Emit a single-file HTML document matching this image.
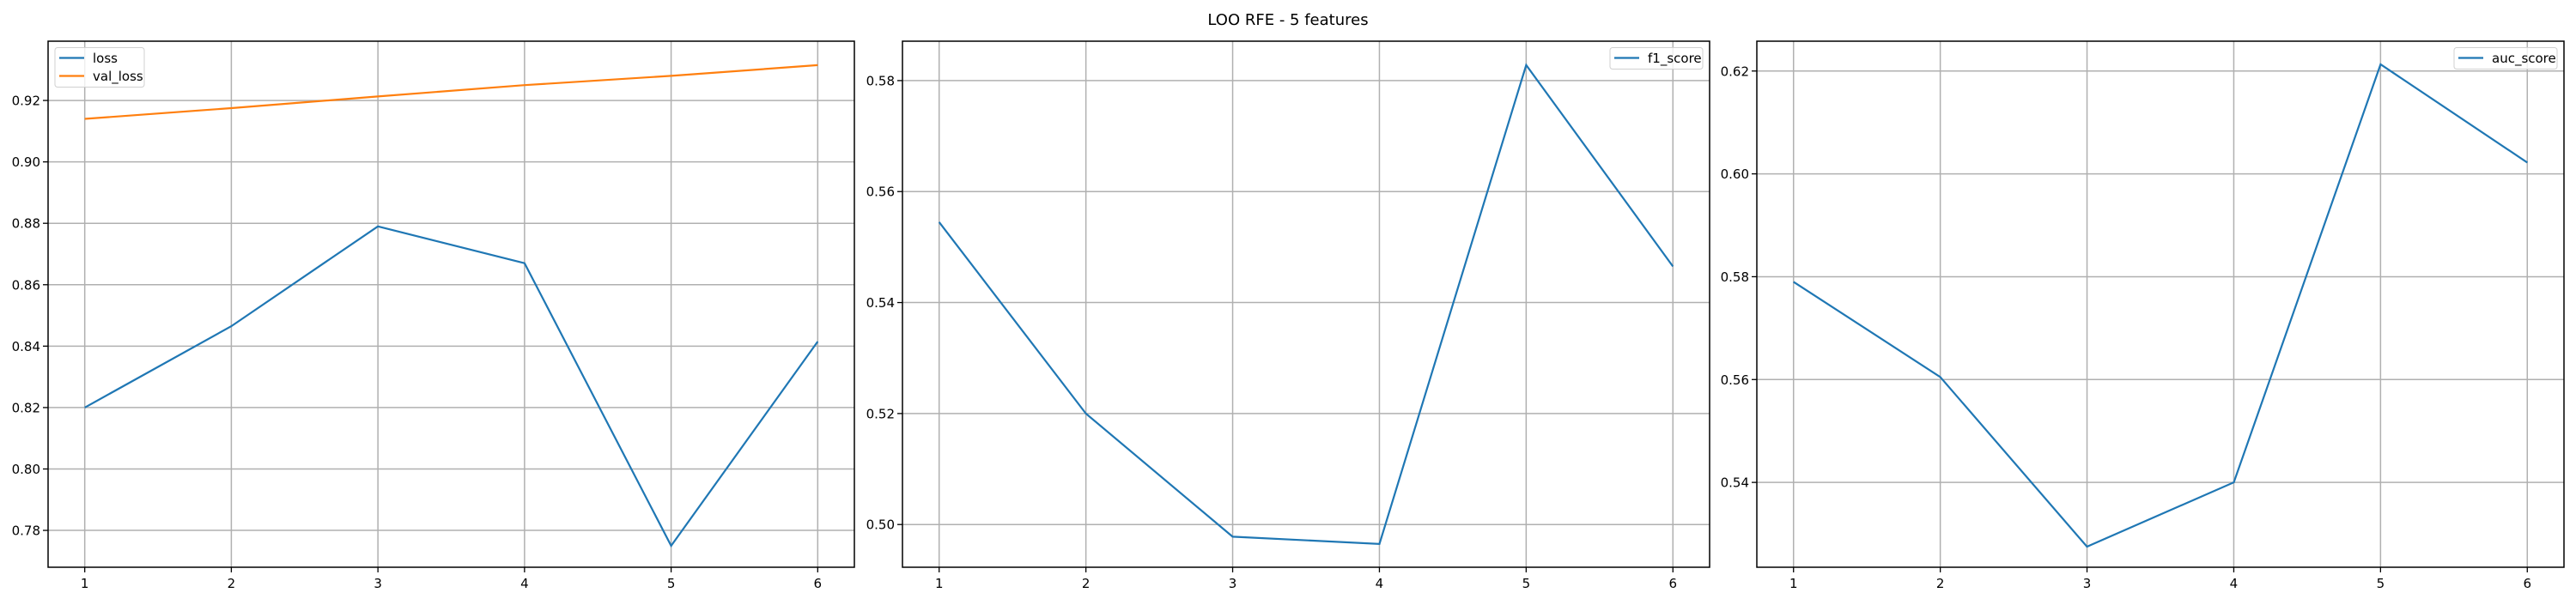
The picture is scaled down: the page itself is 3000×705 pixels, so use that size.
<!DOCTYPE html>
<html><head><meta charset="utf-8"><style>
html,body{margin:0;padding:0;background:#fff;}
svg text{font-family:"DejaVu Sans","Liberation Sans",sans-serif;fill:#000;}
</style></head><body>
<svg id="chart" width="3000" height="700" xmlns="http://www.w3.org/2000/svg">
<rect width="3000" height="700" fill="#fff"/>
<text x="1500" y="29" font-size="18" text-anchor="middle">LOO RFE - 5 features</text>
</svg>
<script>
const epochs = [1, 2, 3, 4, 5, 6];
const lossValues = [0.820, 0.8465, 0.879, 0.867, 0.775, 0.8415];
const valLossValues = [0.914, 0.9175, 0.9213, 0.925, 0.928, 0.9315];
const f1Values = [0.5545, 0.520, 0.4978, 0.4965, 0.5828, 0.5465];
const aucValues = [0.579, 0.5605, 0.5275, 0.540, 0.6213, 0.6022];
const lossTicks = [0.78, 0.80, 0.82, 0.84, 0.86, 0.88, 0.90, 0.92];
const f1Ticks = [0.50, 0.52, 0.54, 0.56, 0.58];
const aucTicks = [0.54, 0.56, 0.58, 0.60, 0.62];

const NS = "http://www.w3.org/2000/svg";
const svg = document.getElementById('chart');
function mk(tag, attrs, parent) {
  const e = document.createElementNS(NS, tag);
  for (const k in attrs) e.setAttribute(k, attrs[k]);
  (parent || svg).appendChild(e);
  return e;
}
function panel(cfg) {
  const g = mk('g', {});
  
  
  const top = 48, bot = 661;
  const xS = v => cfg.left + (v - 0.75) / 5.5 * (cfg.right - cfg.left);
  const yS = v => bot - (v - cfg.ymin) / (cfg.ymax - cfg.ymin) * (bot - top);
  epochs.forEach(ep => {
    const x = xS(ep);
    const gl = mk('line', {x1: x, x2: x, y1: top, y2: bot, stroke: '#b0b0b0', 'stroke-width': 1.5}, g);
    
    
    mk('line', {x1: x, x2: x, y1: bot, y2: bot + 6, stroke: '#000', 'stroke-width': 1.3}, g);
    const t = mk('text', {x: x, y: bot + 24, 'font-size': 15, 'text-anchor': 'middle'}, g);
    t.textContent = ep;
    
    
  });
  cfg.ticks.forEach(tv => {
    const y = yS(tv);
    const gl = mk('line', {x1: cfg.left, x2: cfg.right, y1: y, y2: y, stroke: '#b0b0b0', 'stroke-width': 1.5}, g);
    
    
    mk('line', {x1: cfg.left - 6, x2: cfg.left, y1: y, y2: y, stroke: '#000', 'stroke-width': 1.3}, g);
    const t = mk('text', {x: cfg.left - 9, y: y + 5.5, 'font-size': 15, 'text-anchor': 'end'}, g);
    t.textContent = tv.toFixed(2);
    
    
  });
  cfg.series.forEach(s => {
    const pts = s.values.map((v, i) => xS(epochs[i]).toFixed(1) + ',' + yS(v).toFixed(1)).join(' ');
    const pl = mk('polyline', {points: pts, fill: 'none', stroke: s.color, 'stroke-width': 2.2}, g);
    
    
  });
  const fr = mk('rect', {x: cfg.left, y: top, width: cfg.right - cfg.left, height: bot - top, fill: 'none', stroke: '#000', 'stroke-width': 1.5}, g);
  
  
  const L = cfg.legend;
  const lg = mk('g', {}, g);
  
  
  mk('rect', {x: L.x, y: 55.5, width: L.w, height: 25 + 21 * (cfg.series.length - 1), rx: 3, fill: '#fff', 'fill-opacity': 0.8, stroke: '#d0d0d0', 'stroke-width': 1}, lg);
  cfg.series.forEach((s, i) => {
    const y = 67.5 + 21 * i;
    mk('line', {x1: L.x + 5, x2: L.x + 34, y1: y, y2: y, stroke: s.color, 'stroke-width': 2.2}, lg);
    const t = mk('text', {x: L.x + 44, y: y + 5.5, 'font-size': 15}, lg);
    t.textContent = s.label;
    
    
  });
}
panel({name: 'loss-panel', left: 56, right: 995, ymin: 0.768, ymax: 0.9393, ticks: lossTicks,
  series: [{label: 'loss', values: lossValues, color: '#1f77b4'}, {label: 'val_loss', values: valLossValues, color: '#ff7f0e'}],
  legend: {x: 64, w: 104}});
panel({name: 'f1-panel', left: 1051, right: 1991, ymin: 0.4923, ymax: 0.5871, ticks: f1Ticks,
  series: [{label: 'f1_score', values: f1Values, color: '#1f77b4'}],
  legend: {x: 1875, w: 108}});
panel({name: 'auc-panel', left: 2046, right: 2986, ymin: 0.5235, ymax: 0.6258, ticks: aucTicks,
  series: [{label: 'auc_score', values: aucValues, color: '#1f77b4'}],
  legend: {x: 2858, w: 120}});
</script>
</body></html>
